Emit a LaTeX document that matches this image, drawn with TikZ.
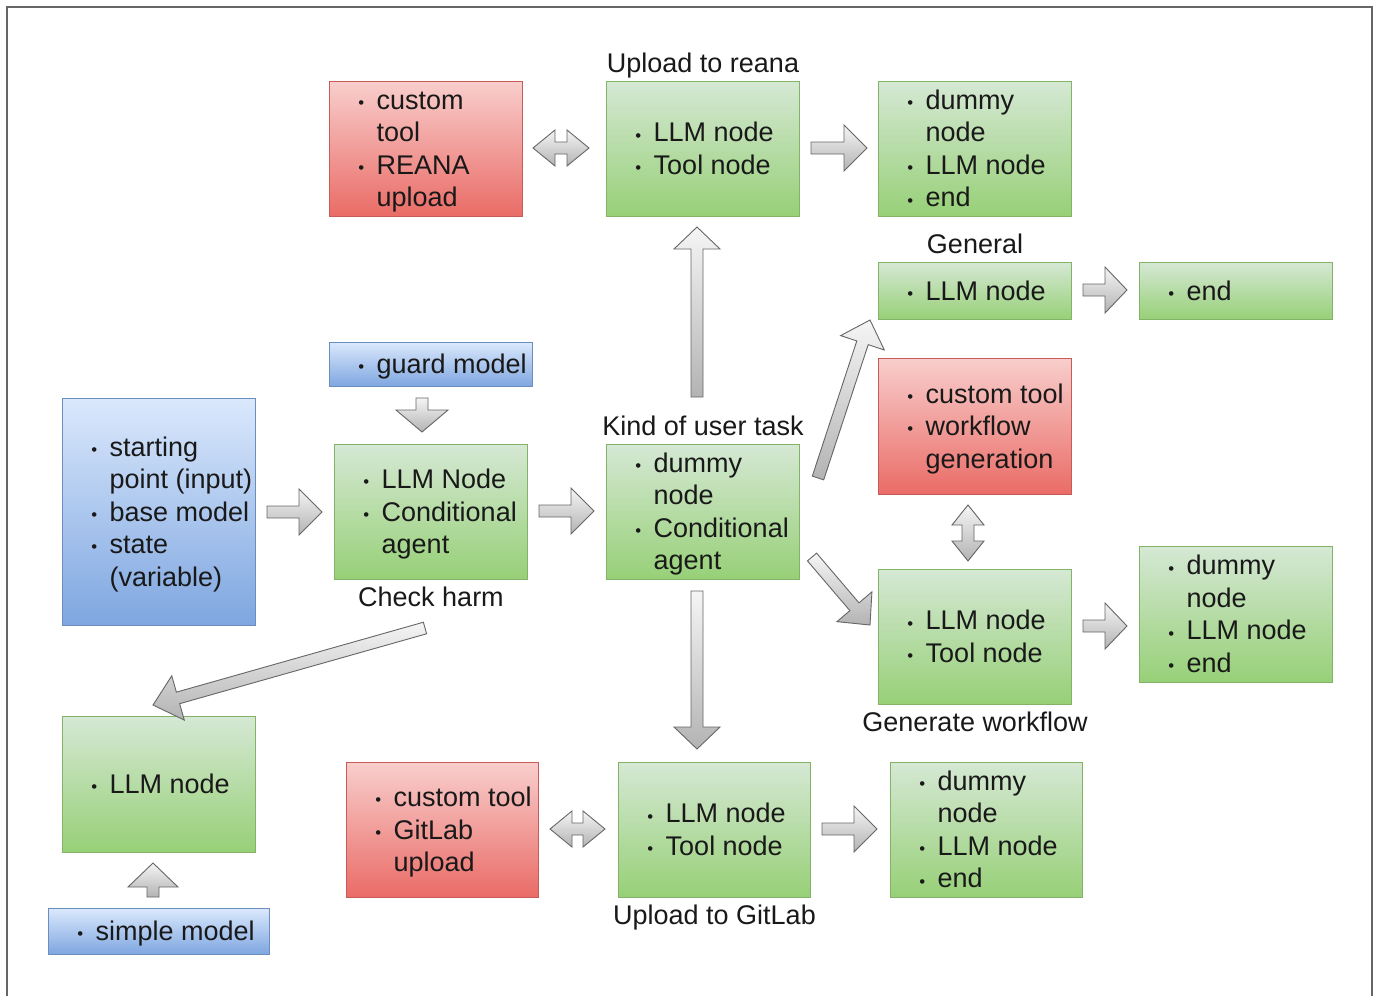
\documentclass[tikz,border=0pt]{standalone}
\usepackage{fontspec}
\setmainfont{Liberation Sans}
\usetikzlibrary{calc}

\definecolor{gtop}{HTML}{D5E8D4}\definecolor{gbot}{HTML}{97D077}\definecolor{gline}{HTML}{82B366}
\definecolor{rtop}{HTML}{F8CECC}\definecolor{rbot}{HTML}{EA6B66}\definecolor{rline}{HTML}{B85450}
\definecolor{btop}{HTML}{DAE8FC}\definecolor{bbot}{HTML}{7EA6E0}\definecolor{bline}{HTML}{6C8EBF}
\definecolor{atop}{HTML}{F5F5F5}\definecolor{abot}{HTML}{B3B3B3}\definecolor{aline}{HTML}{666666}
\definecolor{framec}{HTML}{666666}

% bullet in front of a list line, continuation line
\newcommand{\bu}{\strut\makebox[0pt][r]{\raisebox{0.6pt}{\scalebox{0.62}{\textbullet}}\hspace{12.5pt}}}
\newcommand{\cl}{\strut}

% single block arrow: tail, tip, head length, half head width
\newcommand{\sarrow}[4]{%
  \coordinate (hb) at ($(#2)!#3!(#1)$);
  \draw[barrow] ($(#1)!6pt!90:(#2)$) -- ($(hb)!6pt!90:(#2)$) -- ($(hb)!#4!90:(#2)$) -- (#2)
    -- ($(hb)!#4!-90:(#2)$) -- ($(hb)!6pt!-90:(#2)$) -- ($(#1)!6pt!-90:(#2)$) -- cycle;}
% double block arrow: tip, tip, head length, half head width
\newcommand{\darrow}[4]{%
  \coordinate (ha) at ($(#1)!#3!(#2)$);
  \coordinate (hb) at ($(#2)!#3!(#1)$);
  \draw[barrow] (#1) -- ($(ha)!#4!90:(#2)$) -- ($(ha)!6pt!90:(#2)$) -- ($(hb)!6pt!-90:(#1)$)
    -- ($(hb)!#4!-90:(#1)$) -- (#2) -- ($(hb)!#4!90:(#1)$) -- ($(hb)!6pt!90:(#1)$)
    -- ($(ha)!6pt!-90:(#2)$) -- ($(ha)!#4!-90:(#2)$) -- cycle;}

\begin{document}
\begin{tikzpicture}[x=1pt,y=-1pt,
  box/.style={anchor=north west, inner sep=0pt, line width=1pt, minimum width=193pt, minimum height=135pt},
  gbox/.style={box, draw=gline, top color=gtop, bottom color=gbot},
  rbox/.style={box, draw=rline!70!rbot, top color=rtop, bottom color=rbot},
  bbox/.style={box, draw=bline, top color=btop, bottom color=bbot},
  txt/.style={anchor=west, inner sep=0pt, align=left, font=\fontsize{27}{32.5}\selectfont, text=black!90},
  lbl/.style={inner sep=0pt, font=\fontsize{27}{32.5}\selectfont, text=black!90},
  barrow/.style={draw=aline, line width=0.9pt, line join=miter, top color=atop, bottom color=abot}]

\useasboundingbox (0,0) rectangle (1379,996);
\fill[white] (0,0) rectangle (1379,996);
\draw[framec, line width=1.8pt] (7,996) -- (7,7) -- (1372,7) -- (1372,996);

% ---- boxes ----
\node[rbox] (redA) at (329,81) {};
\node[txt] (redAt) at ([xshift=47.5pt,yshift=-2.5pt]redA.west) {\bu custom\\\cl tool\\\bu REANA\\\cl upload};
\node[gbox] (reana) at (606,81) {};
\node[txt] (reanat) at ([xshift=47.5pt,yshift=-2.5pt]reana.west) {\bu LLM node\\\bu Tool node};
\node[gbox] (reanaR) at (878,81) {};
\node[txt] (reanaRt) at ([xshift=47.5pt,yshift=-2.5pt]reanaR.west) {\bu dummy\\\cl node\\\bu LLM node\\\bu end};

\node[gbox, minimum height=57pt] (general) at (878,262) {};
\node[txt] (generalt) at ([xshift=47.5pt,yshift=-2.5pt]general.west) {\bu LLM node};
\node[gbox, minimum height=57pt] (genEnd) at (1139,262) {};
\node[txt] (genEndt) at ([xshift=47.5pt,yshift=-2.5pt]genEnd.west) {\bu end};

\node[rbox, minimum height=136pt] (redW) at (878,358) {};
\node[txt] (redWt) at ([xshift=47.5pt,yshift=-2.5pt]redW.west) {\bu custom tool\\\bu workflow\\\cl generation};
\node[gbox] (genwf) at (878,569) {};
\node[txt] (genwft) at ([xshift=47.5pt,yshift=-2.5pt]genwf.west) {\bu LLM node\\\bu Tool node};
\node[gbox, minimum height=136pt] (genwfR) at (1139,546) {};
\node[txt] (genwfRt) at ([xshift=47.5pt,yshift=-2.5pt]genwfR.west) {\bu dummy\\\cl node\\\bu LLM node\\\bu end};

\node[bbox, minimum width=203pt, minimum height=44pt] (guard) at (329,342) {};
\node[txt] (guardt) at ([xshift=47.5pt,yshift=-2.5pt]guard.west) {\bu guard model};
\node[gbox] (harm) at (334,444) {};
\node[txt] (harmt) at ([xshift=47.5pt,yshift=-2.5pt]harm.west) {\bu LLM Node\\\bu Conditional\\\cl agent};
\node[bbox, minimum height=227pt] (start) at (62,398) {};
\node[txt] (startt) at ([xshift=47.5pt,yshift=-2.5pt]start.west) {\bu starting\\\cl point (input)\\\bu base model\\\bu state\\\cl (variable)};
\node[gbox] (kind) at (606,444) {};
\node[txt] (kindt) at ([xshift=47.5pt,yshift=-2.5pt]kind.west) {\bu dummy\\\cl node\\\bu Conditional\\\cl agent};

\node[gbox, minimum height=136pt] (llmL) at (62,716) {};
\node[txt] (llmLt) at ([xshift=47.5pt,yshift=-2.5pt]llmL.west) {\bu LLM node};
\node[bbox, minimum width=221pt, minimum height=46pt] (simple) at (48,908) {};
\node[txt] (simplet) at ([xshift=47.5pt,yshift=-2.5pt]simple.west) {\bu simple model};

\node[rbox, minimum width=192pt] (redG) at (346,762) {};
\node[txt] (redGt) at ([xshift=47.5pt,yshift=-2.5pt]redG.west) {\bu custom tool\\\bu GitLab\\\cl upload};
\node[gbox, minimum width=192pt] (gitlab) at (618,762) {};
\node[txt] (gitlabt) at ([xshift=47.5pt,yshift=-2.5pt]gitlab.west) {\bu LLM node\\\bu Tool node};
\node[gbox, minimum width=192pt] (gitlabR) at (890,762) {};
\node[txt] (gitlabRt) at ([xshift=47.5pt,yshift=-2.5pt]gitlabR.west) {\bu dummy\\\cl node\\\bu LLM node\\\bu end};

% ---- captions ----
\node[lbl] (capReana) at ([yshift=15.5pt]reana.north) {\strut Upload to reana};
\node[lbl] (capGeneral) at ([yshift=15.5pt]general.north) {\strut General};
\node[lbl] (capKind) at ([yshift=15.5pt]kind.north) {\strut Kind of user task};
\node[lbl] (capHarm) at ([yshift=-19.5pt]harm.south) {\strut Check harm};
\node[lbl] (capGenwf) at ([yshift=-19.5pt]genwf.south) {\strut Generate workflow};
\node[lbl] (capGitlab) at ([yshift=-19.5pt]gitlab.south) {\strut Upload to GitLab};

% ---- block arrows ----
\coordinate (a1s) at (533,148); \coordinate (a1e) at (589,148);
\coordinate (a2s) at (811,148); \coordinate (a2e) at (867,148);
\coordinate (a3s) at (1083,290); \coordinate (a3e) at (1127,290);
\coordinate (a4s) at (968,505); \coordinate (a4e) at (968,561);
\coordinate (a5s) at (1083,626); \coordinate (a5e) at (1127,626);
\coordinate (a6s) at (422,398); \coordinate (a6e) at (422,432);
\coordinate (a7s) at (267,512); \coordinate (a7e) at (322,512);
\coordinate (a8s) at (539,511); \coordinate (a8e) at (594,511);
\coordinate (a9s) at (697,397); \coordinate (a9e) at (697,227);
\coordinate (a10s) at (697,591); \coordinate (a10e) at (697,749);
\coordinate (a11s) at (818,478); \coordinate (a11e) at (870,320);
\coordinate (a12s) at (812,557); \coordinate (a12e) at (870,625);
\coordinate (a13s) at (425,628); \coordinate (a13e) at (153,705);
\coordinate (a14s) at (153,897); \coordinate (a14e) at (153,863);
\coordinate (a15s) at (550,829); \coordinate (a15e) at (605,829);
\coordinate (a16s) at (822,829); \coordinate (a16e) at (877,829);

\darrow{a1s}{a1e}{22pt}{18pt}
\sarrow{a2s}{a2e}{23pt}{23pt}
\sarrow{a3s}{a3e}{22pt}{23pt}
\darrow{a4s}{a4e}{20pt}{16pt}
\sarrow{a5s}{a5e}{22pt}{23pt}
\sarrow{a6s}{a6e}{22pt}{26pt}
\sarrow{a7s}{a7e}{23pt}{23pt}
\sarrow{a8s}{a8e}{23pt}{23pt}
\sarrow{a9s}{a9e}{22pt}{23pt}
\sarrow{a10s}{a10e}{22pt}{23pt}
\sarrow{a11s}{a11e}{24pt}{23pt}
\sarrow{a12s}{a12e}{24pt}{23pt}
\sarrow{a13s}{a13e}{26pt}{23pt}
\sarrow{a14s}{a14e}{24pt}{25pt}
\darrow{a15s}{a15e}{22pt}{18pt}
\sarrow{a16s}{a16e}{23pt}{23pt}
\end{tikzpicture}
\end{document}
